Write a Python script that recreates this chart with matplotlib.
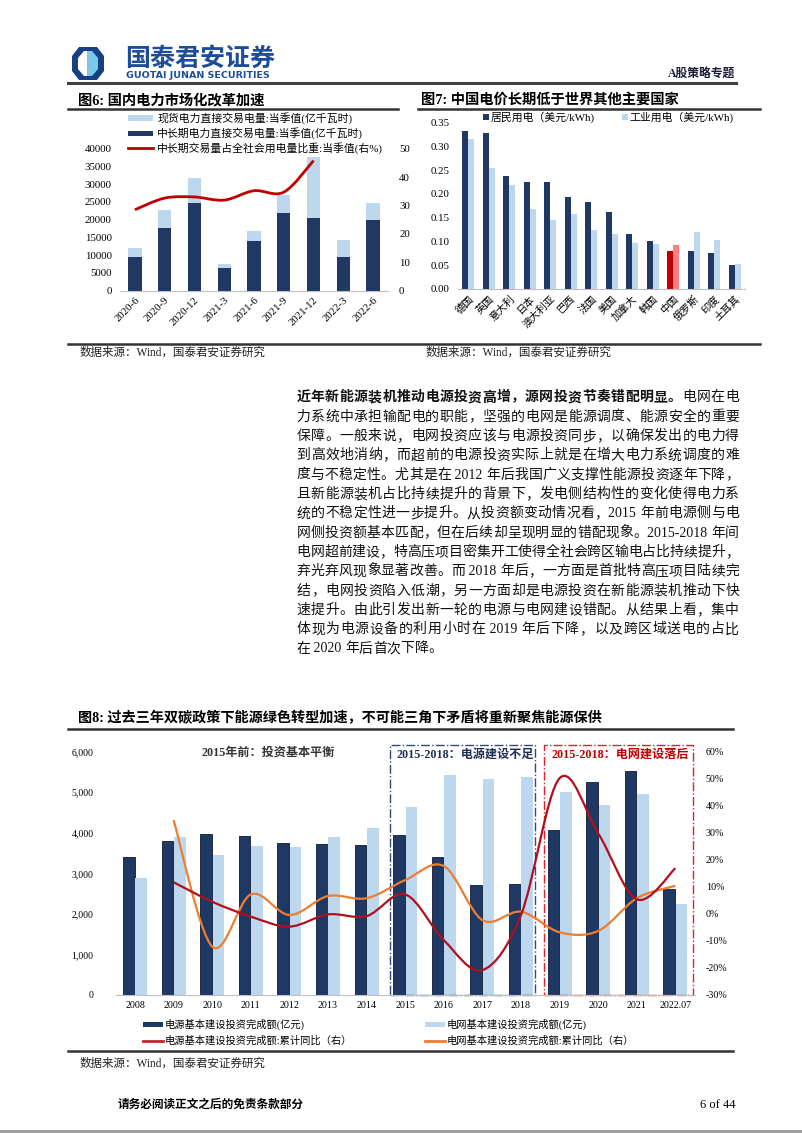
import matplotlib
matplotlib.use('Agg')
import matplotlib.pyplot as plt
from matplotlib.path import Path
from matplotlib.patches import PathPatch, Rectangle, Polygon
from matplotlib.lines import Line2D
import numpy as np

plt.rcParams['font.family'] = ['Liberation Serif', 'Noto Sans CJK SC']
plt.rcParams['axes.unicode_minus'] = False

# ---------------- data ----------------
# fig 6
q_labels = ['2020-6', '2020-9', '2020-12', '2021-3', '2021-6', '2021-9', '2021-12', '2022-3', '2022-6']
total_trade = [12000, 22700, 31700, 7500, 16900, 27000, 37800, 14300, 24800]
long_trade = [9600, 17600, 24700, 6300, 14000, 21800, 20400, 9600, 20000]
long_share = [28.5, 32.6, 33.0, 31.9, 35.2, 34.7, 45.8]   # ends at 2021-12

# fig 7
countries = ['德国', '英国', '意大利', '日本', '澳大利亚', '巴西', '法国', '美国',
             '加拿大', '韩国', '中国', '俄罗斯', '印度', '土耳其']
resid_price = [0.333, 0.328, 0.238, 0.226, 0.226, 0.194, 0.184, 0.163,
               0.115, 0.102, 0.080, 0.080, 0.076, 0.051]
indus_price = [0.316, 0.255, 0.219, 0.169, 0.146, 0.158, 0.125, 0.116,
               0.097, 0.095, 0.093, 0.119, 0.104, 0.053]

# fig 8
years = ['2008', '2009', '2010', '2011', '2012', '2013', '2014', '2015',
         '2016', '2017', '2018', '2019', '2020', '2021', '2022.07']
power_inv = [3411, 3805, 3970, 3929, 3741, 3716, 3692, 3946,
             3411, 2713, 2737, 4069, 5245, 5532, 2614]
grid_inv = [2893, 3889, 3445, 3675, 3650, 3889, 4111, 4629,
            5425, 5327, 5368, 5006, 4693, 4949, 2244]
power_yoy = [11.7, 4.5, -1.0, -4.7, -0.2, -0.8, 7.2,
             -9.7, -20.8, -0.4, 50.2, 29.8, 5.4, 16.9]   # from 2009
grid_yoy = [34.7, -12.1, 7.2, -0.4, 6.6, 5.8, 12.5,
            17.7, -2.3, 0.8, -6.8, -6.3, 5.8, 10.4]      # from 2009

body_lines = [
    '力系统中承担输配电的职能，坚强的电网是能源调度、能源安全的重要',
    '保障。一般来说，电网投资应该与电源投资同步，以确保发出的电力得',
    '到高效地消纳，而超前的电源投资实际上就是在增大电力系统调度的难',
    '度与不稳定性。尤其是在 2012 年后我国广义支撑性能源投资逐年下降，',
    '且新能源装机占比持续提升的背景下，发电侧结构性的变化使得电力系',
    '统的不稳定性进一步提升。从投资额变动情况看，2015 年前电源侧与电',
    '网侧投资额基本匹配，但在后续却呈现明显的错配现象。2015-2018 年间',
    '电网超前建设，特高压项目密集开工使得全社会跨区输电占比持续提升，',
    '弃光弃风现象显著改善。而 2018 年后，一方面是首批特高压项目陆续完',
    '结，电网投资陷入低潮，另一方面却是电源投资在新能源装机推动下快',
    '速提升。由此引发出新一轮的电源与电网建设错配。从结果上看，集中',
    '体现为电源设备的利用小时在 2019 年后下降，以及跨区域送电的占比',
    '在 2020 年后首次下降。',
]

NAVY = '#1F3864'
LIGHT = '#BDD7EE'
RED = '#C00000'
ORANGE = '#ED7D31'
W, H = 802, 1133


def fx(x):
    return x / W


def fy(y):
    return 1 - y / H


def box(x0, y0, x1, y1):
    return [fx(x0), fy(y1), (x1 - x0) / W, (y1 - y0) / H]


def hline(x0, x1, y, lw=1.6, color='#333333'):
    fig.add_artist(Line2D([fx(x0), fx(x1)], [fy(y), fy(y)], lw=lw, color=color))


def smooth(xs, ys):
    # excel-like smoothed line as cubic bezier through the points
    pts = np.column_stack([xs, ys]).astype(float)
    n = len(pts)
    verts = [pts[0]]
    codes = [Path.MOVETO]
    for i in range(n - 1):
        p0 = pts[i - 1] if i > 0 else pts[i]
        p1, p2 = pts[i], pts[i + 1]
        p3 = pts[i + 2] if i + 2 < n else pts[i + 1]
        verts += [p1 + (p2 - p0) / 6, p2 - (p3 - p1) / 6, p2]
        codes += [Path.CURVE4] * 3
    return Path(verts, codes)


def clean(ax):
    for s in ['top', 'left', 'right']:
        ax.spines[s].set_visible(False)
    ax.spines['bottom'].set_color('#BFBFBF')
    ax.tick_params(length=0)
    ax.set_facecolor('none')


fig = plt.figure(figsize=(W / 100, H / 100), dpi=100)
renderer = fig.canvas.get_renderer()

# ---------------- header ----------------
logo_out = [(72, 56), (79, 47), (97, 47), (104, 56), (104, 71), (97, 80), (79, 80), (72, 71)]
fig.add_artist(Polygon([(fx(a), fy(b)) for a, b in logo_out], closed=True, fc='#173F86', ec='none'))
logo_in = [(84, 51), (92, 51), (98, 58), (98, 69), (92, 76), (84, 76)]
fig.add_artist(Polygon([(fx(a), fy(b)) for a, b in logo_in], closed=True, fc='#7CC7E8', ec='none'))
logo_w = [(78, 58), (84, 51), (87, 51), (87, 76), (84, 76), (78, 69)]
fig.add_artist(Polygon([(fx(a), fy(b)) for a, b in logo_w], closed=True, fc='white', ec='none'))
fig.text(fx(125), fy(59), '国泰君安证券', fontsize=18, fontweight='bold', color='#1D4C99',
         family='Noto Sans CJK SC', va='center')
fig.text(fx(126), fy(76), 'GUOTAI JUNAN SECURITIES', fontsize=6.8, fontweight='bold', color='#1D4C99',
         family='DejaVu Sans', va='center')
fig.text(fx(735), fy(74), 'A股策略专题', fontsize=8.5, fontweight='bold', color='#1a1a3a', ha='right', va='center')
hline(68, 736, 83, lw=2.2, color='#404040')

# ---------------- fig 6 ----------------
fig.text(fx(78), fy(100), '图6: 国内电力市场化改革加速', fontsize=10.3, fontweight='bold', va='center')
hline(68, 398, 108.5, lw=1.8)
ax6 = fig.add_axes(box(120, 148.7, 388, 290.7))
x6 = np.arange(len(q_labels))
spot = np.array(total_trade) - np.array(long_trade)
ax6.bar(x6, long_trade, width=0.45, color=NAVY)
ax6.bar(x6, spot, bottom=long_trade, width=0.45, color=LIGHT)
ax6.set_xlim(-0.5, len(q_labels) - 0.5)
ax6.set_ylim(0, 40000)
ax6.set_yticks(range(0, 40001, 5000))
ax6.set_xticks(x6)
ax6.set_xticklabels(q_labels, rotation=45, ha='right', rotation_mode='anchor', fontsize=7.8)
ax6.tick_params(axis='y', labelsize=7.8, pad=6)
clean(ax6)
ax6r = ax6.twinx()
ax6r.set_ylim(0, 50)
ax6r.set_yticks(range(0, 51, 10))
ax6r.tick_params(labelsize=7.8, length=0, pad=8)
for s in ax6r.spines.values():
    s.set_visible(False)
ax6r.add_patch(PathPatch(smooth(x6[:len(long_share)], long_share), fill=False, ec=RED, lw=2))

leg6 = [('patch', LIGHT, '现货电力直接交易电量:当季值(亿千瓦时)'),
        ('patch', NAVY, '中长期电力直接交易电量:当季值(亿千瓦时)'),
        ('line', RED, '中长期交易量占全社会用电量比重:当季值(右%)')]
for i, (kind, c, lab) in enumerate(leg6):
    yy = 118.3 + 15 * i
    if kind == 'patch':
        fig.add_artist(Rectangle((fx(128), fy(yy + 2.8)), 25 / W, 5.6 / H, fc=c, ec='none'))
    else:
        fig.add_artist(Line2D([fx(128), fx(153)], [fy(yy), fy(yy)], color=c, lw=2))
    fig.text(fx(157), fy(yy), lab, fontsize=7.8, va='center')

# ---------------- fig 7 ----------------
fig.text(fx(421), fy(100), '图7: 中国电价长期低于世界其他主要国家', fontsize=10.3, fontweight='bold', va='center')
hline(418, 760, 108.5, lw=1.8)
ax7 = fig.add_axes(box(458, 122.7, 745, 289))
x7 = np.arange(len(countries))
cdark = [RED if c == '中国' else NAVY for c in countries]
clight = ['#FF7C80' if c == '中国' else LIGHT for c in countries]
ax7.bar(x7 - 0.15, resid_price, width=0.3, color=cdark)
ax7.bar(x7 + 0.15, indus_price, width=0.3, color=clight)
ax7.set_xlim(-0.5, len(countries) - 0.5)
ax7.set_ylim(0, 0.35)
ax7.set_yticks(np.arange(0, 0.351, 0.05))
ax7.set_yticklabels(['%.2f' % v for v in np.arange(0, 0.351, 0.05)])
ax7.tick_params(axis='y', labelsize=7.8, pad=6)
ax7.set_xticks(x7)
ax7.set_xticklabels(countries, rotation=45, ha='right', rotation_mode='anchor', fontsize=7.4)
clean(ax7)
fig.add_artist(Rectangle((fx(483.5), fy(119.8)), 5.5 / W, 5.5 / H, fc=NAVY, ec='none'))
fig.text(fx(491), fy(117), '居民用电（美元/kWh)', fontsize=7.8, va='center')
fig.add_artist(Rectangle((fx(622), fy(119.8)), 5.5 / W, 5.5 / H, fc=LIGHT, ec='none'))
fig.text(fx(629), fy(117), '工业用电（美元/kWh)', fontsize=7.8, va='center')

hline(68, 760, 343.5, lw=1.8)
fig.text(fx(80), fy(353), '数据来源：Wind，国泰君安证券研究', fontsize=8.3, va='center', color='#222222')
fig.text(fx(426), fy(353), '数据来源：Wind，国泰君安证券研究', fontsize=8.3, va='center', color='#222222')


# ---------------- body text ----------------
def put_line(y, segs, x0=296.5, x1=739, justify=True, size=10):
    toks = []
    for s, w in segs:
        buf = ''
        for ch in s:
            if ord(ch) < 128:
                buf += ch
            else:
                if buf:
                    toks.append((buf, w))
                    buf = ''
                toks.append((ch, w))
        if buf:
            toks.append((buf, w))
    txts = [fig.text(0, fy(y), t, fontsize=size, fontweight=w, va='center', color='#111111') for t, w in toks]
    wds = [t.get_window_extent(renderer).width for t in txts]
    gap = (x1 - x0 - sum(wds)) / (len(txts) - 1) if justify else 0
    x = x0
    for t, wd in zip(txts, wds):
        t.set_x(fx(x))
        x += wd + gap


put_line(397.7, [('近年新能源装机推动电源投资高增，源网投资节奏错配明显。', 'bold'), ('电网在电', 'normal')])
for i, line in enumerate(body_lines):
    put_line(397.7 + 19.33 * (i + 1), [(line, 'normal')], justify=(i < len(body_lines) - 1))

# ---------------- fig 8 ----------------
fig.text(fx(78), fy(718), '图8: 过去三年双碳政策下能源绿色转型加速，不可能三角下矛盾将重新聚焦能源保供',
         fontsize=10.2, fontweight='bold', va='center')
hline(68, 733, 728.5, lw=1.8)
ax8 = fig.add_axes(box(115.7, 751.7, 694.7, 995))
x8 = np.arange(len(years))
ax8.bar(x8 - 0.16, power_inv, width=0.3, color=NAVY, ec='#0d1a33', lw=0.6)
ax8.bar(x8 + 0.16, grid_inv, width=0.3, color=LIGHT)
ax8.set_xlim(-0.5, len(years) - 0.5)
ax8.set_ylim(0, 6000)
ax8.set_yticks(range(0, 6001, 1000))
ax8.set_yticklabels(['{:,}'.format(v) for v in range(0, 6001, 1000)])
ax8.tick_params(axis='y', labelsize=7, pad=16)
ax8.set_xticks(x8)
ax8.set_xticklabels(years, fontsize=7.2)
ax8.tick_params(axis='x', pad=4)
clean(ax8)
ax8r = ax8.twinx()
ax8r.set_ylim(-30, 60)
ax8r.set_yticks(range(-30, 61, 10))
ax8r.set_yticklabels(['%d%%' % v for v in range(-30, 61, 10)])
ax8r.tick_params(labelsize=7.2, length=0, pad=8)
for s in ax8r.spines.values():
    s.set_visible(False)
ax8r.add_patch(PathPatch(smooth(x8[1:], grid_yoy), fill=False, ec=ORANGE, lw=1.6))
ax8r.add_patch(PathPatch(smooth(x8[1:], power_yoy), fill=False, ec='#B0101C', lw=1.6))

ax8.add_patch(Rectangle((6.6, 0), 10.36 - 6.6, 6165, fill=False, ec='#2F4A7A', ls='-.', lw=1.0, clip_on=False))
ax8.add_patch(Rectangle((10.6, 0), 14.46 - 10.6, 6165, fill=False, ec='#E0202A', ls='-.', lw=1.0, clip_on=False))
ax8.text(3.45, 5965, '2015年前：投资基本平衡', fontsize=8.7, fontweight='bold', color='#333333', ha='center', va='center')
ax8.text(8.56, 5930, '2015-2018：电源建设不足', fontsize=8.7, fontweight='bold', color='#1F2E55', ha='center', va='center')
ax8.text(12.58, 5930, '2015-2018：电网建设落后', fontsize=8.7, fontweight='bold', color='#C00000', ha='center', va='center')

fig.add_artist(Rectangle((fx(143), fy(1026.5)), 20 / W, 5 / H, fc=NAVY, ec='none'))
fig.text(fx(165), fy(1024), '电源基本建设投资完成额(亿元)', fontsize=7.4, va='center')
fig.add_artist(Rectangle((fx(425), fy(1026.5)), 20 / W, 5 / H, fc=LIGHT, ec='none'))
fig.text(fx(447), fy(1024), '电网基本建设投资完成额(亿元)', fontsize=7.4, va='center')
fig.add_artist(Line2D([fx(143), fx(163)], [fy(1041)] * 2, color='#C0272D', lw=2))
fig.text(fx(165), fy(1041), '电源基本建设投资完成额:累计同比（右）', fontsize=7.4, va='center')
fig.add_artist(Line2D([fx(425), fx(445)], [fy(1041)] * 2, color=ORANGE, lw=2))
fig.text(fx(447), fy(1041), '电网基本建设投资完成额:累计同比（右）', fontsize=7.4, va='center')

hline(68, 733, 1050.5, lw=1.8)
fig.text(fx(80), fy(1064), '数据来源：Wind，国泰君安证券研究', fontsize=8.3, va='center', color='#222222')

# ---------------- footer ----------------
fig.text(fx(118), fy(1105), '请务必阅读正文之后的免责条款部分', fontsize=8.4, fontweight='bold', va='center')
fig.text(fx(735), fy(1105), '6 of 44', fontsize=9, va='center', ha='right')
hline(0, 802, 1131, lw=2, color='#999999')

fig.savefig('out.png', dpi=100)
